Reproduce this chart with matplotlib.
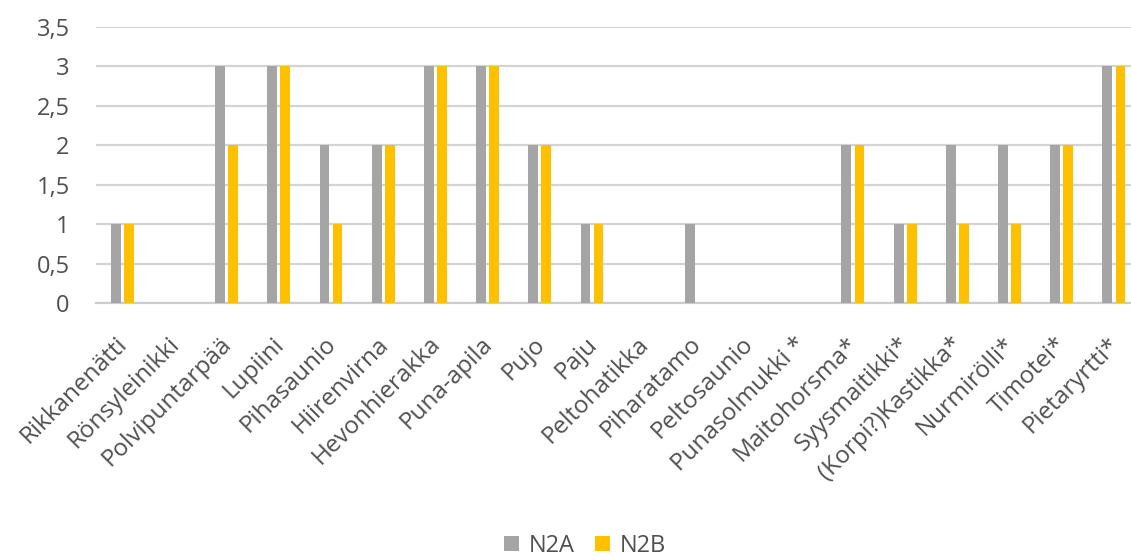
import numpy as np
import matplotlib
matplotlib.use("Agg")
import matplotlib.pyplot as plt
import matplotlib.transforms as mtransforms
from matplotlib.ticker import FuncFormatter

species = [
    "Rikkanenätti", "Rönsyleinikki", "Polvipuntarpää", "Lupiini", "Pihasaunio",
    "Hiirenvirna", "Hevonhierakka", "Puna-apila", "Pujo", "Paju",
    "Peltohatikka", "Piharatamo", "Peltosaunio", "Punasolmukki *", "Maitohorsma*",
    "Syysmaitikki*", "(Korpi?)Kastikka*", "Nurmirölli*", "Timotei*", "Pietaryrtti*",
]
n2a = [1, 0, 3, 3, 2, 2, 3, 3, 2, 1, 0, 1, 0, 0, 2, 1, 2, 2, 2, 3]
n2b = [1, 0, 2, 3, 1, 2, 3, 3, 2, 1, 0, 0, 0, 0, 2, 1, 1, 1, 2, 3]

GRAY = "#A5A5A5"
YELLOW = "#FFC000"
TEXT = "#505050"

plt.rcParams["font.family"] = ["Open Sans", "DejaVu Sans"]

fig = plt.figure(figsize=(11.31, 5.57), dpi=100)
ax = fig.add_axes([0.085, 0.456, 0.923, 0.496])

x = np.arange(len(species))
w = 0.19
ax.bar(x - 0.125, n2a, width=w, color=GRAY, label="N2A", zorder=3)
ax.bar(x + 0.125, n2b, width=w, color=YELLOW, label="N2B", zorder=3)

ax.set_xlim(-0.5, len(species) - 0.5)
ax.set_ylim(0, 3.5)
ax.set_yticks(np.arange(0, 3.51, 0.5))
ax.yaxis.set_major_formatter(FuncFormatter(lambda v, _: f"{v:g}".replace(".", ",")))
ax.grid(axis="y", color="#D4D4D4", linewidth=1.6, zorder=0)

for side in ("top", "right", "left"):
    ax.spines[side].set_visible(False)
ax.spines["bottom"].set_color("#CCCCCC")
ax.spines["bottom"].set_linewidth(1.6)

ax.set_xticks(x)
ax.set_xticklabels(species, rotation=45, ha="right", rotation_mode="anchor")
ax.tick_params(axis="x", length=0, pad=21, labelsize=17.5, labelcolor=TEXT)
ax.tick_params(axis="y", length=0, pad=19, labelsize=17, labelcolor=TEXT)

# nudge the slanted category names a little to the left of their ticks
shift = mtransforms.ScaledTranslation(-5 / 72, 0, fig.dpi_scale_trans)
for label in ax.get_xticklabels():
    label.set_transform(label.get_transform() + shift)

fig.legend(loc="center", bbox_to_anchor=(0.517, 0.02), ncol=2, frameon=False,
           fontsize=17, labelcolor=TEXT, handlelength=0.63, handleheight=0.63,
           handletextpad=0.42, columnspacing=0.85, borderpad=0)

fig.savefig("out.png", dpi=100)
